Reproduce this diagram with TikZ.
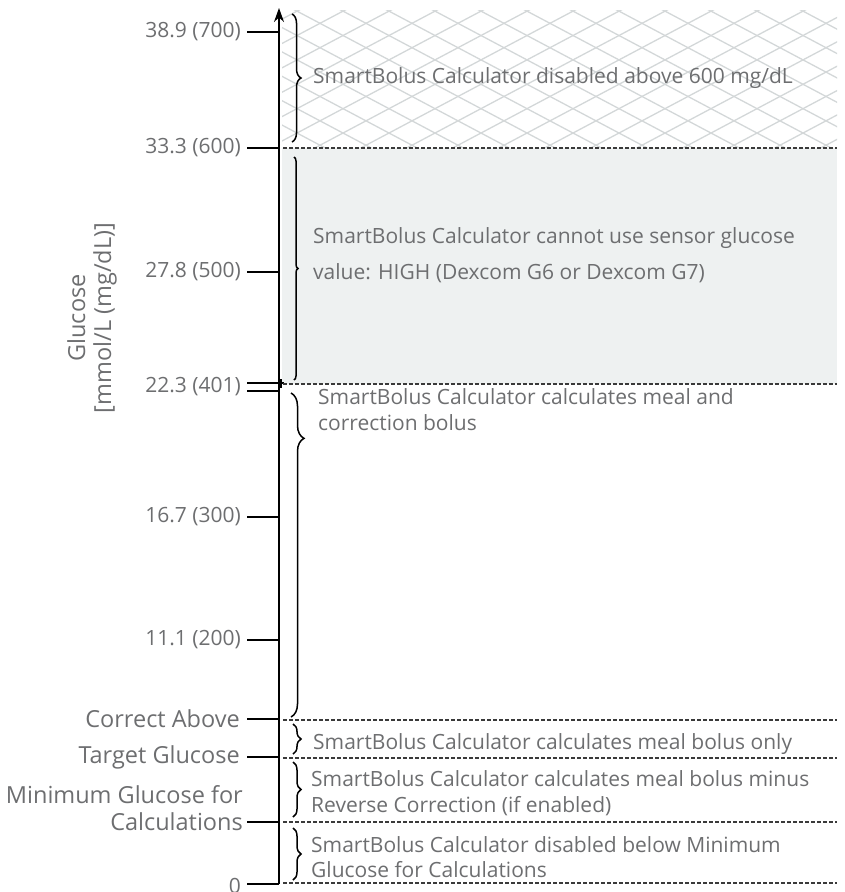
\documentclass[tikz,border=0pt]{standalone}
\usepackage{fontspec}
\setmainfont{Open Sans}
\usetikzlibrary{positioning,arrows.meta,decorations.pathreplacing}
\definecolor{txtgray}{HTML}{6D6E70}
\definecolor{hatch}{HTML}{D3D7D8}
\definecolor{highband}{HTML}{EEF1F1}
\definecolor{dashgray}{HTML}{3A3A3A}

\begin{document}
\begin{tikzpicture}[x=1pt,y=-1pt,
    lbl/.style={font=\fontsize{21}{26}\selectfont,text=txtgray,inner sep=0pt},
    ticklbl/.style={lbl,anchor=east,align=right,font=\fontsize{23.5}{26}\selectfont},
    numlbl/.style={ticklbl,font=\fontsize{21}{26}\selectfont},
    zonelbl/.style={lbl,anchor=west,align=left},
    tickline/.style={black,line width=1.3pt},
    limit/.style={dashgray,line width=1.2pt,dash pattern=on 3.5pt off 2.5pt},
    zonebrace/.style={decorate,decoration={brace,amplitude=#1},line width=1.5pt},
    zonebrace/.default=8]
  \useasboundingbox (0,0) rectangle (844,892);
  % shaded band and hatched bands
  \fill[highband] (282,148) rectangle (837,384);
  \begin{scope}
    \clip (282,10) rectangle (837,148) (282,822) rectangle (837,884);
    \foreach \k in {-30,...,20} {
      \draw[hatch,line width=1.3pt] (\k*46,0) -- ++(1300,689);
      \draw[hatch,line width=1.3pt] (\k*46+1100,0) -- ++(-1300,689);
    }
  \end{scope}
  % axis
  \draw[-{Stealth[length=14pt,width=10pt]},line width=1.6pt] (279,884) -- (279,8);
  \node[lbl,font=\fontsize{23.5}{26}\selectfont,rotate=90,align=center] (ylabel) at (92,318) {Glucose\\{}[mmol/L (mg/dL)]};
  % ticks and limits
  \foreach \y/\t in {32/38.9 (700),148/33.3 (600),272/27.8 (500),517/16.7 (300),640/11.1 (200)} {
    \node[numlbl] (t\y) at (241,\y) {\t};
    \draw[tickline] (t\y.east) ++(6,0) -- (279,\y);
  }
  \foreach \y/\t in {719/Correct Above,757/Target Glucose} {
    \node[ticklbl] (t\y) at (240,\y) {\t};
    \draw[tickline] (t\y.east) ++(7,0) -- (279,\y);
  }
  \node[numlbl] (t384) at (241,387) {22.3 (401)};
  \draw[tickline] (247,383) -- (284,383);
  \draw[tickline] (247,391) -- (279,391);
  \draw[tickline] (281,379) -- (281,388);
  \node[ticklbl,anchor=south east,font=\fontsize{23.5}{27}\selectfont] (t822) at (243,831) {Minimum Glucose for\\Calculations};
  \draw[tickline] (247,822) -- (279,822);
  \node[numlbl] (t0) at (241,886) {0};
  \draw[tickline] (247,884) -- (279,884);
  \foreach \y in {148,384,720,758,822,883}
    \draw[limit] (283,\y) -- (837,\y);
  % braces and zone texts
  \draw[zonebrace=9] (292,14) -- (292,142);
  \draw[zonebrace=4] (294,157) -- (294,380);
  \draw[decorate,decoration={brace,amplitude=13,aspect=0.14},line width=1.5pt] (291,393) -- (291,717);
  \draw[zonebrace] (293,724) -- (293,754);
  \draw[zonebrace] (293,762) -- (293,817);
  \draw[zonebrace] (293,828) -- (293,880);
  \node[zonelbl] (z1) at (313,78) {SmartBolus Calculator disabled above 600 mg/dL};
  \node[zonelbl,font=\fontsize{21}{36}\selectfont] (z2) at (313,255) {SmartBolus Calculator cannot use sensor glucose\\value: HIGH (Dexcom G6 or Dexcom G7)};
  \node[zonelbl] (z3) at (318,410) {SmartBolus Calculator calculates meal and\\correction bolus};
  \node[zonelbl] (z4) at (313,744) {SmartBolus Calculator calculates meal bolus only};
  \node[zonelbl] (z5) at (311,793) {SmartBolus Calculator calculates meal bolus minus\\Reverse Correction (if enabled)};
  \node[zonelbl,font=\fontsize{21}{25}\selectfont] (z6) at (311,857) {SmartBolus Calculator disabled below Minimum\\Glucose for Calculations};
\end{tikzpicture}
\end{document}
